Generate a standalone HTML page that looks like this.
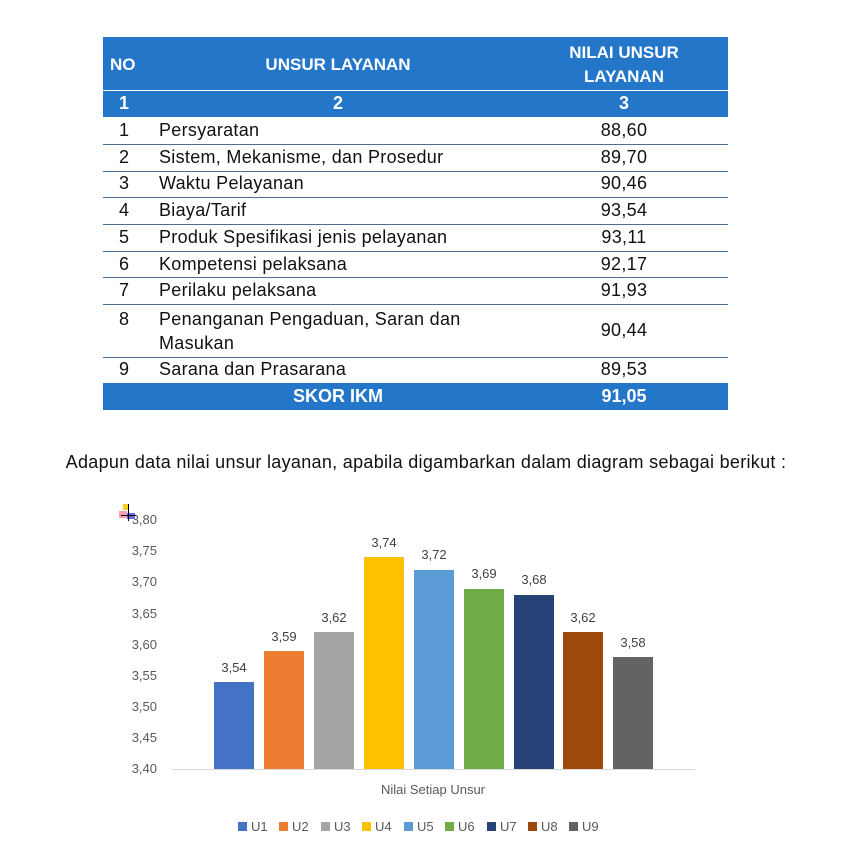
<!DOCTYPE html>
<html><head><meta charset="utf-8"><style>
body{margin:0;width:844px;height:856px;background:#fff;font-family:"Liberation Sans",sans-serif;position:relative;overflow:hidden}
.a{position:absolute}
.hd{background:#2476c8;color:#fff;font-weight:bold}
.t{font-size:18px;color:#111;letter-spacing:0.3px}
.ln{position:absolute;left:103px;width:625px;height:1px;background:#4d6f90}
.ax{font-size:13px;color:#595959;position:absolute;width:40px;text-align:right;left:117px}
.bar{position:absolute;width:40px}
.lab{position:absolute;width:60px;text-align:center;font-size:13px;color:#404040}
.lg{position:absolute;top:819px;font-size:13px;color:#595959}
.lg i{display:inline-block;width:9px;height:9px;margin-right:4px;vertical-align:0px}
</style></head><body>
<div class="a hd" style="left:103px;top:37px;width:625px;height:53px"></div>
<div class="a hd" style="left:103px;top:91px;width:625px;height:26px"></div>
<div class="a hd" style="left:103px;top:383px;width:625px;height:27px"></div>
<div class="a" style="left:103px;top:90px;width:625px;height:1px;background:#fff"></div>
<div class="a" style="left:110px;top:55px;color:#fff;font-weight:bold;font-size:17px">NO</div>
<div class="a" style="left:200px;top:55px;width:276px;text-align:center;color:#fff;font-weight:bold;font-size:17px">UNSUR LAYANAN</div>
<div class="a" style="left:524px;top:41px;width:200px;text-align:center;color:#fff;font-weight:bold;font-size:17px;line-height:24px">NILAI UNSUR<br>LAYANAN</div>
<div class="a" style="left:119px;top:93px;color:#fff;font-weight:bold;font-size:18px">1</div>
<div class="a" style="left:200px;top:93px;width:276px;text-align:center;color:#fff;font-weight:bold;font-size:18px">2</div>
<div class="a" style="left:524px;top:93px;width:200px;text-align:center;color:#fff;font-weight:bold;font-size:18px">3</div>
<div class="a" style="left:200px;top:386px;width:276px;text-align:center;color:#fff;font-weight:bold;font-size:18px">SKOR IKM</div>
<div class="a" style="left:524px;top:386px;width:200px;text-align:center;color:#fff;font-weight:bold;font-size:18px">91,05</div>

<div class="ln" style="top:144px"></div><div class="ln" style="top:171px"></div><div class="ln" style="top:197px"></div><div class="ln" style="top:224px"></div><div class="ln" style="top:251px"></div><div class="ln" style="top:277px"></div><div class="ln" style="top:304px"></div><div class="ln" style="top:357px"></div>

<div class="a t" style="left:119px;top:120px">1</div><div class="a t" style="left:159px;top:120px">Persyaratan</div><div class="a t" style="left:524px;top:120px;width:200px;text-align:center">88,60</div>
<div class="a t" style="left:119px;top:147px">2</div><div class="a t" style="left:159px;top:147px">Sistem, Mekanisme, dan Prosedur</div><div class="a t" style="left:524px;top:147px;width:200px;text-align:center">89,70</div>
<div class="a t" style="left:119px;top:173px">3</div><div class="a t" style="left:159px;top:173px">Waktu Pelayanan</div><div class="a t" style="left:524px;top:173px;width:200px;text-align:center">90,46</div>
<div class="a t" style="left:119px;top:200px">4</div><div class="a t" style="left:159px;top:200px">Biaya/Tarif</div><div class="a t" style="left:524px;top:200px;width:200px;text-align:center">93,54</div>
<div class="a t" style="left:119px;top:227px">5</div><div class="a t" style="left:159px;top:227px">Produk Spesifikasi jenis pelayanan</div><div class="a t" style="left:524px;top:227px;width:200px;text-align:center">93,11</div>
<div class="a t" style="left:119px;top:254px">6</div><div class="a t" style="left:159px;top:254px">Kompetensi pelaksana</div><div class="a t" style="left:524px;top:254px;width:200px;text-align:center">92,17</div>
<div class="a t" style="left:119px;top:280px">7</div><div class="a t" style="left:159px;top:280px">Perilaku pelaksana</div><div class="a t" style="left:524px;top:280px;width:200px;text-align:center">91,93</div>
<div class="a t" style="left:119px;top:307px;line-height:24px">8</div><div class="a t" style="left:159px;top:307px;line-height:24px">Penanganan Pengaduan, Saran dan<br>Masukan</div><div class="a t" style="left:524px;top:320px;width:200px;text-align:center">90,44</div>
<div class="a t" style="left:119px;top:359px">9</div><div class="a t" style="left:159px;top:359px">Sarana dan Prasarana</div><div class="a t" style="left:524px;top:359px;width:200px;text-align:center">89,53</div>

<div class="a" style="left:0;width:852px;top:452px;text-align:center;font-size:18px;letter-spacing:0.3px;color:#111">Adapun data nilai unsur layanan, apabila digambarkan dalam diagram sebagai berikut :</div>

<div class="ax" style="top:512px">3,80</div>
<div class="ax" style="top:543px">3,75</div>
<div class="ax" style="top:574px">3,70</div>
<div class="ax" style="top:606px">3,65</div>
<div class="ax" style="top:637px">3,60</div>
<div class="ax" style="top:668px">3,55</div>
<div class="ax" style="top:699px">3,50</div>
<div class="ax" style="top:730px">3,45</div>
<div class="ax" style="top:761px">3,40</div>
<div class="a" style="left:172px;top:769px;width:523px;height:1px;background:#d9d9d9"></div>

<div class="bar" style="left:214px;top:682px;height:87px;background:#4472c4"></div><div class="lab" style="left:204px;top:660px">3,54</div>
<div class="bar" style="left:264px;top:651px;height:118px;background:#ed7d31"></div><div class="lab" style="left:254px;top:629px">3,59</div>
<div class="bar" style="left:314px;top:632px;height:137px;background:#a5a5a5"></div><div class="lab" style="left:304px;top:610px">3,62</div>
<div class="bar" style="left:364px;top:557px;height:212px;background:#ffc000"></div><div class="lab" style="left:354px;top:535px">3,74</div>
<div class="bar" style="left:414px;top:570px;height:199px;background:#5b9bd5"></div><div class="lab" style="left:404px;top:547px">3,72</div>
<div class="bar" style="left:464px;top:589px;height:180px;background:#70ad47"></div><div class="lab" style="left:454px;top:566px">3,69</div>
<div class="bar" style="left:514px;top:595px;height:174px;background:#264478"></div><div class="lab" style="left:504px;top:572px">3,68</div>
<div class="bar" style="left:563px;top:632px;height:137px;background:#9e480e"></div><div class="lab" style="left:553px;top:610px">3,62</div>
<div class="bar" style="left:613px;top:657px;height:112px;background:#636363"></div><div class="lab" style="left:603px;top:635px">3,58</div>

<div class="a" style="left:333px;top:782px;width:200px;text-align:center;font-size:13px;color:#595959">Nilai Setiap Unsur</div>

<div class="lg" style="left:238px"><i style="background:#4472c4"></i>U1</div>
<div class="lg" style="left:279px"><i style="background:#ed7d31"></i>U2</div>
<div class="lg" style="left:321px"><i style="background:#a5a5a5"></i>U3</div>
<div class="lg" style="left:362px"><i style="background:#ffc000"></i>U4</div>
<div class="lg" style="left:404px"><i style="background:#5b9bd5"></i>U5</div>
<div class="lg" style="left:445px"><i style="background:#70ad47"></i>U6</div>
<div class="lg" style="left:487px"><i style="background:#264478"></i>U7</div>
<div class="lg" style="left:528px"><i style="background:#9e480e"></i>U8</div>
<div class="lg" style="left:569px"><i style="background:#636363"></i>U9</div>

<div class="a" style="left:119px;top:511px;width:8px;height:7px;background:#f08a9a;opacity:.8"></div>
<div class="a" style="left:123px;top:504px;width:6px;height:6px;background:#f5d020"></div>
<div class="a" style="left:127px;top:513px;width:8px;height:6px;background:#6a6ae0"></div>
<div class="a" style="left:128px;top:504px;width:1px;height:17px;background:#000"></div>
<div class="a" style="left:121px;top:515px;width:15px;height:1px;background:#000"></div>
</body></html>
